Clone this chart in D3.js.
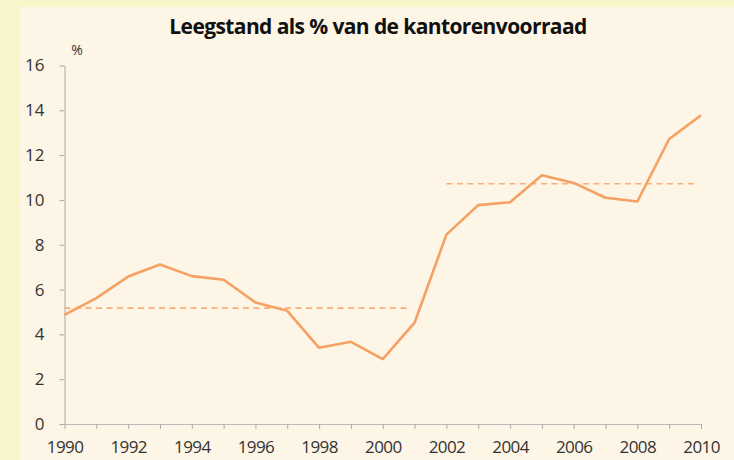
<!DOCTYPE html>
<html><head><meta charset="utf-8">
<script src="https://cdn.jsdelivr.net/npm/d3@7"></script>
<style>
html,body{margin:0;padding:0;background:#f8f5cb;}
svg{display:block;}
</style></head>
<body>
<script>
const years = [1990,1991,1992,1993,1994,1995,1996,1997,1998,1999,2000,2001,2002,2003,2004,2005,2006,2007,2008,2009,2010];
const vacancy = [4.87,5.62,6.58,7.12,6.6,6.44,5.42,5.05,3.4,3.67,2.9,4.52,8.45,9.77,9.9,11.1,10.76,10.1,9.93,12.72,13.78];
const avgPeriods = [{from:1990,to:2001,value:5.17},{from:2002,to:2010,value:10.72}];
const yTicks = [0,2,4,6,8,10,12,14,16];
const xTickLabels = [1990,1992,1994,1996,1998,2000,2002,2004,2006,2008,2010];
const title = "Leegstand als % van de kantorenvoorraad";
const unit = "%";

const W = 734, H = 460;
const svg = d3.select("body").append("svg").attr("width", W).attr("height", H);
svg.append("rect").attr("width", W).attr("height", H).attr("fill", "#f8f5cb");
svg.append("rect").attr("x", 20).attr("y", 7).attr("width", W-20).attr("height", H-7).attr("fill", "#fdf5e5");

const x = d3.scaleLinear().domain([1990, 2010]).range([64.5, 701]);
const y = d3.scaleLinear().domain([0, 16]).range([424, 65.5]);
const font = "'Open Sans', 'DejaVu Sans', sans-serif";

svg.append("text").attr("x", 378).attr("y", 34).attr("text-anchor", "middle")
  .attr("font-family", font).attr("font-weight", "700").attr("font-size", 21)
  .attr("letter-spacing", -0.6).attr("fill", "#111").text(title);

svg.append("text").attr("x", 77).attr("y", 55).attr("text-anchor", "middle")
  .attr("font-family", font).attr("font-size", 14).attr("fill", "#333").text(unit);

// y axis
const yAxis = svg.append("g").attr("transform", "translate(64.5,0)")
  .call(d3.axisLeft(y).tickValues(yTicks).tickSize(5).tickPadding(15).tickSizeOuter(0));
yAxis.select(".domain").attr("stroke", "#aaa");
yAxis.selectAll(".tick line").attr("stroke", "#aaa");
yAxis.selectAll(".tick text").attr("font-family", font).attr("font-size", 17).attr("fill", "#333");

// x axis
const xAxis = svg.append("g").attr("transform", "translate(0,424)")
  .call(d3.axisBottom(x).tickValues(years).tickSize(5).tickPadding(12).tickSizeOuter(0)
    .tickFormat(d => xTickLabels.includes(d) ? String(d) : ""));
xAxis.select(".domain").attr("stroke", "#bbb");
xAxis.selectAll(".tick line").attr("stroke", "#aaa");
xAxis.selectAll(".tick text").attr("font-family", font).attr("font-size", 17)
  .attr("letter-spacing", -0.6).attr("fill", "#333");

// dashed averages
svg.selectAll(".avg").data(avgPeriods).enter().append("line")
  .attr("x1", d => x(d.from)).attr("x2", d => x(d.to) - 4)
  .attr("y1", d => y(d.value)).attr("y2", d => y(d.value))
  .attr("stroke", "#f7b07a").attr("stroke-width", 1.6).attr("stroke-dasharray", "6,4.5");

// line
const line = d3.line().x((d, i) => x(years[i])).y(d => y(d));
svg.append("path").datum(vacancy).attr("d", line).attr("fill", "none")
  .attr("stroke", "#f5a163").attr("stroke-width", 2.6).attr("stroke-linejoin", "round");
</script>
</body></html>
